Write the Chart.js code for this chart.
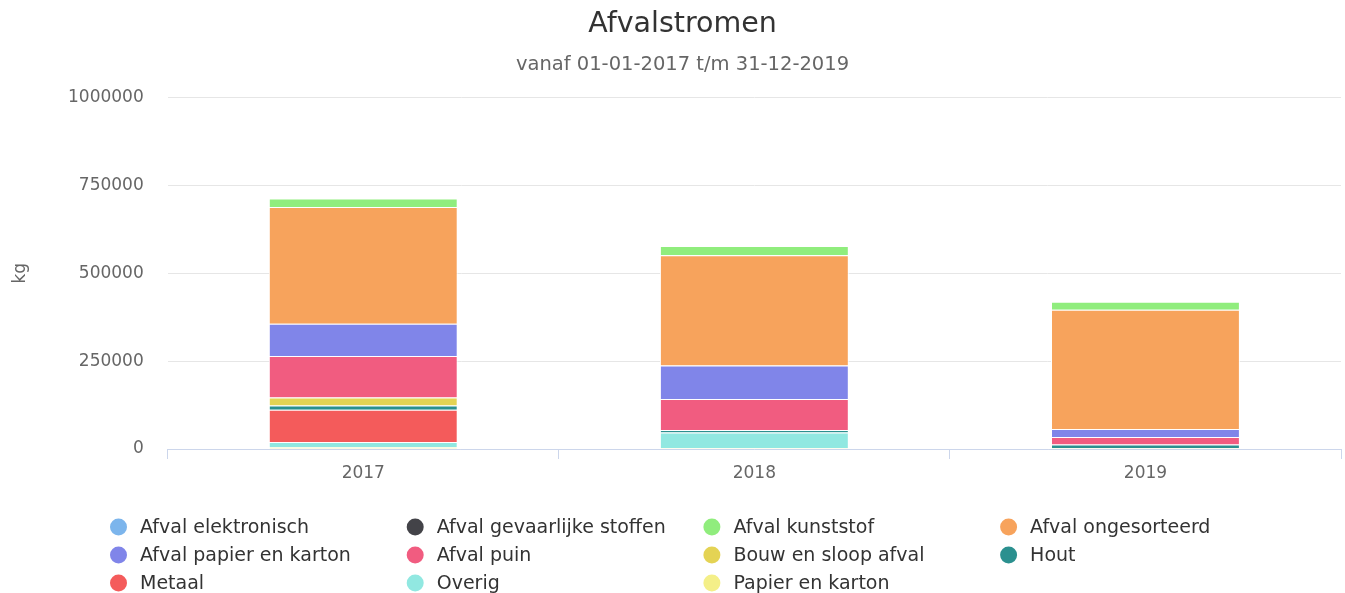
<!DOCTYPE html>
<html>
<head>
<meta charset="utf-8">
<script src="https://cdn.jsdelivr.net/npm/chart.js@4.4.0/dist/chart.umd.min.js"></script>
<style>
  html, body { margin: 0; padding: 0; background: #fff; }
  #wrap { width: 1345px; height: 593px; }
</style>
</head>
<body>
<div id="wrap"><canvas id="chart-afval" width="1345" height="593"></canvas></div>
<script>
// Jaren en afvalstromen (kg)
var years = ['2017', '2018', '2019'];
var streams = [
    'Afval elektronisch', 'Afval gevaarlijke stoffen', 'Afval kunststof', 'Afval ongesorteerd',
    'Afval papier en karton', 'Afval puin', 'Bouw en sloop afval', 'Hout',
    'Metaal', 'Overig', 'Papier en karton'
];
var colors = [
    '#7cb5ec', '#434348', '#90ed7d', '#f7a35c',
    '#8085e9', '#f15c80', '#e4d354', '#2b908f',
    '#f45b5b', '#91e8e1', '#f4ef88'
];

var afvalElektronisch = [0, 0, 0];
var afvalGevaarlijk = [0, 0, 0];
var afvalKunststof = [24000, 26500, 23000];
var afvalOngesorteerd = [332500, 313500, 339000];
var afvalPapierKarton = [91200, 95400, 22800];
var afvalPuin = [118500, 88500, 21400];
var bouwSloop = [23000, 0, 0];
var hout = [12000, 7000, 10000];
var metaal = [91500, 0, 0];
var overig = [15000, 44000, 0];
var papierKarton = [5000, 3000, 3000];

var yTicks = [0, 250000, 500000, 750000, 1000000];

var values = [
    afvalElektronisch, afvalGevaarlijk, afvalKunststof, afvalOngesorteerd,
    afvalPapierKarton, afvalPuin, bouwSloop, hout,
    metaal, overig, papierKarton
];

var FONT = 'DejaVu Sans';

// eerste reeks bovenaan de stapel, dus omgekeerd toevoegen
var datasets = [];
for (let i = streams.length - 1; i >= 0; i--) {
    datasets.push({
        label: streams[i],
        data: values[i],
        backgroundColor: colors[i],
        borderColor: '#ffffff',
        borderWidth: 1,
        barPercentage: 0.483,
        categoryPercentage: 1
    });
}

// titels iets naar rechts, zoals in het origineel
var shiftTitles = {
    id: 'shiftTitles',
    afterLayout: function (chart) {
        chart.boxes.forEach(function (b) {
            if (b.position === 'top' && b.options && b.options.text) {
                b.left += 12;
                b.right += 12;
            }
        });
    }
};

// legenda in 4 kolommen onder de grafiek
var legendPlugin = {
    id: 'gridLegend',
    afterDraw: function (chart) {
        var ctx = chart.ctx;
        ctx.save();
        ctx.font = '19px "' + FONT + '"';
        ctx.textBaseline = 'middle';
        ctx.textAlign = 'left';
        for (let i = 0; i < streams.length; i++) {
            let col = i % 4;
            let row = Math.floor(i / 4);
            let x = 118.5 + col * 296.7;
            let y = 527 + row * 28;
            ctx.beginPath();
            ctx.arc(x, y, 8.5, 0, Math.PI * 2);
            ctx.fillStyle = colors[i];
            ctx.fill();
            ctx.fillStyle = '#333333';
            ctx.fillText(streams[i], x + 21.5, y + 1);
        }
        ctx.restore();
    }
};

var ctx = document.getElementById('chart-afval').getContext('2d');
var chartAfval = new Chart(ctx, {
    type: 'bar',
    data: {
        labels: years,
        datasets: datasets
    },
    options: {
        responsive: false,
        animation: false,
        layout: { padding: { top: 0, left: 0, right: 4, bottom: 105.6 } },
        plugins: {
            legend: { display: false },
            tooltip: { enabled: false },
            title: {
                display: true,
                text: 'Afvalstromen',
                color: '#333333',
                font: { family: FONT, size: 28.5, weight: 'normal' },
                padding: { top: 7, bottom: 0 }
            },
            subtitle: {
                display: true,
                text: 'vanaf 01-01-2017 t/m 31-12-2019',
                color: '#666666',
                font: { family: FONT, size: 19.5, weight: 'normal' },
                padding: { top: 12.5, bottom: 20.5 }
            }
        },
        scales: {
            x: {
                stacked: true,
                grid: { drawOnChartArea: false, drawTicks: true, tickLength: 10, color: '#ccd6eb' },
                border: { display: true, color: '#ccd6eb' },
                ticks: { color: '#666666', padding: 4, font: { family: FONT, size: 17 } }
            },
            y: {
                stacked: true,
                min: 0,
                max: 1000000,
                afterBuildTicks: function (axis) {
                    axis.ticks = yTicks.map(function (v) { return { value: v }; });
                },
                grid: { color: '#e6e6e6', drawTicks: false },
                border: { display: false },
                ticks: {
                    color: '#666666',
                    padding: 24,
                    font: { family: FONT, size: 17 },
                    callback: function (v) { return String(v); }
                },
                title: {
                    display: true,
                    text: 'kg',
                    color: '#666666',
                    font: { family: FONT, size: 17 },
                    padding: { top: 10, bottom: 13.6 }
                }
            }
        }
    },
    plugins: [shiftTitles, legendPlugin]
});
</script>
</body>
</html>
